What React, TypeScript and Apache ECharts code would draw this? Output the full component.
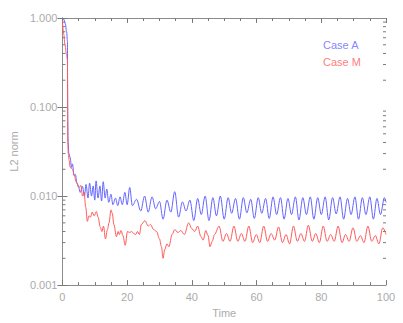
import React, { useEffect, useRef } from "react";
import * as echarts from "echarts";

const seriesNames = ["Case A", "Case M"];
const seriesColors = ["#6464ff", "#ff5a5a"];

const caseA: [number, number][] = [
  [0, 1.0], [0.4, 0.97], [0.9, 0.86], [1.3, 0.7], [1.55, 0.55], [1.6, 0.2], [1.65, 0.07], [1.75, 0.04],
  [2.0, 0.03], [2.4, 0.027], [2.8, 0.021], [3.1, 0.023], [3.6, 0.017], [4.0, 0.0175], [4.5, 0.014],
  [5.0, 0.0125], [5.5, 0.011], [6.2, 0.0128], [6.8, 0.010], [7.3, 0.0135], [7.9, 0.0095], [8.4, 0.014],
  [9.0, 0.010], [9.5, 0.013], [10.0, 0.009], [10.4, 0.0148], [11.0, 0.0095], [11.6, 0.013], [12.1, 0.0088],
  [12.6, 0.0145], [13.2, 0.0095], [13.7, 0.012], [14.3, 0.0085], [15.0, 0.0105], [15.6, 0.008],
  [16.4, 0.0095], [17.1, 0.0078], [17.8, 0.0098], [18.5, 0.008], [19.3, 0.011], [20.0, 0.008],
  [20.8, 0.0125], [21.6, 0.0078], [22.9, 0.0092], [24.2, 0.0068], [25.4, 0.0100], [26.5, 0.0066],
  [27.7, 0.0098], [28.8, 0.0072], [30.0, 0.0087], [31.1, 0.0055], [32.3, 0.0090], [33.5, 0.0066],
  [34.7, 0.0112], [35.9, 0.0058], [37.1, 0.0086], [38.2, 0.0068], [39.4, 0.0090], [40.6, 0.0053],
  [41.8, 0.0094], [42.9, 0.0062], [44.1, 0.0100], [45.3, 0.0053], [46.5, 0.0096], [47.6, 0.0060],
  [48.8, 0.0100], [50.0, 0.0055], [51.2, 0.0096], [52.3, 0.0064], [53.5, 0.0094], [54.7, 0.0055],
  [55.9, 0.0096], [57.0, 0.0065], [58.2, 0.0092], [59.3, 0.0056], [60.5, 0.0096], [61.6, 0.0064],
  [62.8, 0.0094], [63.9, 0.0056], [65.1, 0.0098], [66.2, 0.0062], [67.4, 0.0096], [68.5, 0.0055],
  [69.7, 0.0094], [70.8, 0.0062], [72.0, 0.0098], [73.1, 0.0054], [74.3, 0.0096], [75.4, 0.0062],
  [76.6, 0.0098], [77.7, 0.0055], [78.9, 0.0096], [80.0, 0.0062], [81.2, 0.0098], [82.3, 0.0054],
  [83.5, 0.0096], [84.6, 0.0063], [85.8, 0.0098], [86.9, 0.0055], [88.1, 0.0094], [89.2, 0.0062],
  [90.4, 0.0098], [91.5, 0.0055], [92.7, 0.0096], [93.8, 0.0062], [95.0, 0.0098], [96.1, 0.0055],
  [97.2, 0.0094], [98.3, 0.0062], [99.5, 0.0096], [100, 0.0085],
];

const caseM: [number, number][] = [
  [0, 0.93], [0.4, 0.66], [0.8, 0.5], [1.2, 0.4], [1.55, 0.34], [1.6, 0.1], [1.65, 0.045], [1.8, 0.03],
  [2.1, 0.025], [2.4, 0.021], [3.1, 0.020], [3.7, 0.017], [4.2, 0.0145], [4.7, 0.0135], [5.2, 0.0125],
  [5.7, 0.0132], [6.2, 0.0100], [6.7, 0.0110], [7.2, 0.0075], [7.7, 0.0052], [8.2, 0.0060], [8.7, 0.0058],
  [9.2, 0.0066], [9.8, 0.0060], [10.5, 0.0067], [11.0, 0.0058], [11.7, 0.0045], [12.2, 0.0040],
  [12.7, 0.0046], [13.3, 0.0033], [13.9, 0.0042], [14.4, 0.0050], [15.0, 0.0070], [15.4, 0.0064],
  [15.9, 0.0048], [16.7, 0.0035], [17.2, 0.0040], [17.6, 0.0037], [18.1, 0.0041], [18.7, 0.0036],
  [19.4, 0.0028], [20.1, 0.0040], [20.8, 0.0039], [21.4, 0.0040], [22.0, 0.0038], [22.6, 0.0037],
  [23.2, 0.0040], [23.8, 0.0037], [24.4, 0.0048], [25.5, 0.0053], [26.5, 0.0046], [27.2, 0.0048],
  [28.2, 0.0042], [29.1, 0.0040], [30.0, 0.0033], [30.6, 0.0027], [31.1, 0.0020], [31.6, 0.0025],
  [32.3, 0.0029], [32.9, 0.0027], [33.9, 0.0037], [34.7, 0.0042], [35.7, 0.0039], [36.6, 0.0041],
  [37.7, 0.0037], [39.0, 0.0050], [40.0, 0.0043], [40.9, 0.0040], [41.8, 0.0046], [42.8, 0.0035],
  [43.5, 0.0032], [44.3, 0.0041], [45.0, 0.0036], [45.6, 0.0027], [46.3, 0.0031], [47.0, 0.0037],
  [48.4, 0.0046], [49.6, 0.0031], [50.7, 0.0038], [51.8, 0.0031], [53.0, 0.0046], [54.2, 0.0031],
  [55.3, 0.0038], [56.4, 0.0031], [57.6, 0.0046], [58.8, 0.0030], [59.9, 0.0037], [61.0, 0.0030],
  [62.2, 0.0046], [63.4, 0.0031], [64.5, 0.0038], [65.6, 0.0032], [66.8, 0.0045], [68.0, 0.0030],
  [69.1, 0.0037], [70.2, 0.0029], [71.4, 0.0046], [72.6, 0.0031], [73.7, 0.0038], [74.8, 0.0031],
  [76.0, 0.0047], [77.2, 0.0031], [78.3, 0.0038], [79.4, 0.0030], [80.6, 0.0046], [81.8, 0.0031],
  [82.9, 0.0037], [84.0, 0.0031], [85.2, 0.0046], [86.4, 0.0030], [87.5, 0.0037], [88.6, 0.0031],
  [89.8, 0.0044], [91.0, 0.0031], [92.1, 0.0036], [93.2, 0.0030], [94.4, 0.0046], [95.6, 0.0031],
  [96.7, 0.0036], [97.8, 0.0029], [99.0, 0.0044], [100, 0.0037],
];

const logMinorTicks = [
  0.002, 0.003, 0.004, 0.005, 0.006, 0.007, 0.008, 0.009,
  0.02, 0.03, 0.04, 0.05, 0.06, 0.07, 0.08, 0.09,
  0.2, 0.3, 0.4, 0.5, 0.6, 0.7, 0.8, 0.9,
];

const X_MIN = 0;
const X_MAX = 100;
const Y_MIN = 0.001;
const Y_MAX = 1;

const AXIS_COLOR = "#8c8c8c";
const TICK_COLOR = "#7a7a7a";
const LABEL_COLOR = "#ababab";
const FONT = "Liberation Sans, Arial, sans-serif";

export default function App() {
  const ref = useRef<HTMLDivElement>(null);
  useEffect(() => {
    document.body.style.margin = "0";
    const chart = echarts.init(ref.current!, null, { renderer: "svg" });
    const axisCommon = {
      axisLine: { show: true, lineStyle: { color: AXIS_COLOR, width: 1 } },
      splitLine: { show: false },
    };
    chart.setOption({
      animation: false,
      backgroundColor: "#ffffff",
      grid: { left: 58, right: 17, top: 18, bottom: 37, containLabel: false },
      xAxis: [
        {
          type: "value",
          min: X_MIN,
          max: X_MAX,
          interval: 20,
          position: "bottom",
          name: "Time",
          nameLocation: "middle",
          nameGap: 18,
          nameTextStyle: { color: LABEL_COLOR, fontSize: 11, fontFamily: FONT },
          ...axisCommon,
          axisTick: { show: true, inside: true, length: 5, lineStyle: { color: TICK_COLOR } },
          minorTick: { show: true, splitNumber: 4, length: 3, lineStyle: { color: TICK_COLOR } },
          axisLabel: { show: true, color: LABEL_COLOR, fontSize: 11, fontFamily: FONT, margin: 6 },
        },
        {
          type: "value",
          min: X_MIN,
          max: X_MAX,
          interval: 20,
          position: "top",
          ...axisCommon,
          axisTick: { show: true, inside: true, length: 5, lineStyle: { color: TICK_COLOR } },
          minorTick: { show: true, splitNumber: 4, length: 3, lineStyle: { color: TICK_COLOR } },
          axisLabel: { show: false },
        },
      ],
      yAxis: [
        {
          type: "log",
          logBase: 10,
          min: Y_MIN,
          max: Y_MAX,
          position: "left",
          name: "L2 norm",
          nameLocation: "middle",
          nameGap: 39,
          nameTextStyle: { color: LABEL_COLOR, fontSize: 11, fontFamily: FONT },
          ...axisCommon,
          axisTick: { show: true, inside: true, length: 5, lineStyle: { color: TICK_COLOR } },
          axisLabel: {
            show: true,
            color: LABEL_COLOR,
            fontSize: 11,
            fontFamily: FONT,
            margin: 5,
            formatter: (v: number) => v.toFixed(3),
          },
        },
        {
          type: "log",
          logBase: 10,
          min: Y_MIN,
          max: Y_MAX,
          position: "right",
          ...axisCommon,
          axisTick: { show: true, inside: true, length: 5, lineStyle: { color: TICK_COLOR } },
          axisLabel: { show: false },
        },
      ],
      series: [
        {
          type: "custom",
          name: "minorTicks",
          xAxisIndex: 0,
          yAxisIndex: 0,
          silent: true,
          clip: false,
          data: logMinorTicks.map((v) => [X_MIN, v]),
          encode: { x: 0, y: 1 },
          renderItem: (_params: any, api: any) => {
            const v = api.value(1);
            const p = api.coord([X_MIN, v]);
            const q = api.coord([X_MAX, v]);
            return {
              type: "group",
              children: [
                {
                  type: "line",
                  shape: { x1: p[0], y1: p[1], x2: p[0] + 3, y2: p[1] },
                  style: { stroke: TICK_COLOR, lineWidth: 1 },
                },
                {
                  type: "line",
                  shape: { x1: q[0], y1: q[1], x2: q[0] - 3, y2: q[1] },
                  style: { stroke: TICK_COLOR, lineWidth: 1 },
                },
              ],
            };
          },
        },
        {
          type: "line",
          name: seriesNames[0],
          data: caseA,
          showSymbol: false,
          smooth: 0.35,
          smoothMonotone: "x",
          lineStyle: { color: seriesColors[0], width: 1 },
          itemStyle: { color: seriesColors[0] },
        },
        {
          type: "line",
          name: seriesNames[1],
          data: caseM,
          showSymbol: false,
          smooth: 0.35,
          smoothMonotone: "x",
          lineStyle: { color: seriesColors[1], width: 1 },
          itemStyle: { color: seriesColors[1] },
        },
      ],
      graphic: seriesNames.map((name, i) => ({
        type: "text",
        left: 323,
        top: 39 + i * 17,
        style: {
          text: name,
          fill: seriesColors[i],
          fontSize: 11,
          fontFamily: FONT,
          opacity: 0.8,
        },
      })),
    });
    return () => chart.dispose();
  }, []);
  return (
    <div
      ref={ref}
      style={{ position: "fixed", left: 0, top: 0, width: 403, height: 323, background: "#fff" }}
    />
  );
}
